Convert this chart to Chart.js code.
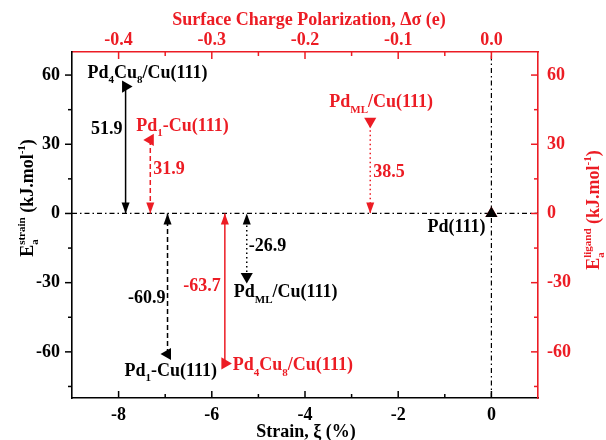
<!DOCTYPE html>
<html>
<head>
<meta charset="utf-8">
<script src="https://cdn.jsdelivr.net/npm/chart.js@4.4.1/dist/chart.umd.min.js"></script>
<style>
  html, body { margin: 0; padding: 0; background: #fff; }
</style>
</head>
<body>
<canvas id="chart" width="606" height="440"></canvas>
<script>
const RED = '#ec1c24';
const FONT = '"Liberation Serif", "Times New Roman", serif';

// structures, same order in both series
const systems = ['Pd4Cu8/Cu(111)', 'Pd1-Cu(111)', 'PdML/Cu(111)', 'Pd(111)'];

// strain part (bottom + left axes, black)
const strain = [-7.85, -6.95, -5.25, 0];
const strainEnergy = [55, -60.9, -27.3, 0];
const strainText = ['51.9', '-60.9', '-26.9'];

// ligand part (top + right axes, red)
const polarization = [-0.286, -0.366, -0.130, 0];
const ligandEnergy = [-65, 31.9, 40, 0];
const ligandText = ['-63.7', '31.9', '38.5'];

// axes
const strainTicks = [-8, -6, -4, -2, 0];
const strainMinor = [-7, -5, -3, -1];
const polTicks = [-0.4, -0.3, -0.2, -0.1, 0.0];
const polMinor = [-0.35, -0.25, -0.15, -0.05];
const energyTicks = [-60, -30, 0, 30, 60];
const energyMinor = [-75, -45, -15, 15, 45];

// marker direction per structure (right, left, down, up)
const markerRot = [90, 270, 180, 0];
const stemDash = [[], [5, 3], [1.5, 3]];

// label offsets from the marker, in px
const nameOffset = {
  strain: [[-38, -9], [-43, 22], [-13, 21], [-64, 19]],
  ligand: [[8, 7], [-14, -9], [-41, -14], null]
};
const valueOffset = {
  strain: [[-3, 47, 'right'], [-2, -51, 'right'], [2, -25, 'left']],
  ligand: [[-4, -72, 'right'], [3, 34, 'left'], [3, 56, 'left']]
};

const font = s => `bold ${Math.round(s)}px ${FONT}`;

function richName(s) {
  const cut = s.search(/[\/\-(]/);
  const parts = [];
  s.slice(0, cut).replace(/([A-Z][a-z]?)(\d+|ML)?/g, (m, el, n) => {
    parts.push({ t: el });
    if (n) parts.push({ sub: n });
  });
  parts.push({ t: s.slice(cut) });
  return parts;
}

function richWidth(ctx, parts, size) {
  let w = 0;
  parts.forEach(p => {
    if (p.t !== undefined) { ctx.font = font(size); w += ctx.measureText(p.t).width; }
    else {
      ctx.font = font(size * 0.6);
      w += Math.max(p.sub ? ctx.measureText(p.sub).width : 0, p.sup ? ctx.measureText(p.sup).width : 0);
    }
  });
  return w;
}

function drawRich(ctx, parts, x, y, size, color, align) {
  const w = richWidth(ctx, parts, size);
  let cx = align === 'center' ? x - w / 2 : align === 'right' ? x - w : x;
  ctx.fillStyle = color;
  ctx.textAlign = 'left';
  ctx.textBaseline = 'alphabetic';
  parts.forEach(p => {
    if (p.t !== undefined) {
      ctx.font = font(size);
      ctx.fillText(p.t, cx, y);
      cx += ctx.measureText(p.t).width;
    } else {
      ctx.font = font(size * 0.6);
      let adv = 0;
      if (p.sub) { ctx.fillText(p.sub, cx, y + size * 0.3); adv = ctx.measureText(p.sub).width; }
      if (p.sup) { ctx.fillText(p.sup, cx, y - size * 0.45); adv = Math.max(adv, ctx.measureText(p.sup).width); }
      cx += adv;
    }
  });
}

function toPoints(xs, ys) {
  return xs.map((x, i) => ({ x: x, y: ys[i] }));
}

const datasets = [];
datasets.push({
  data: toPoints(strain, strainEnergy), xAxisID: 'x', yAxisID: 'y',
  pointStyle: 'triangle', rotation: markerRot, pointRadius: 7,
  backgroundColor: '#000', borderColor: '#000', borderWidth: 0, order: 0
});
datasets.push({
  data: toPoints(polarization, ligandEnergy), xAxisID: 'x2', yAxisID: 'y2',
  pointStyle: 'triangle', rotation: markerRot, pointRadius: 7,
  backgroundColor: RED, borderColor: RED, borderWidth: 0, order: 1
});
// arrow stems: marker down/up to zero
for (let i = 0; i < 3; i++) {
  datasets.push({
    data: [{ x: strain[i], y: strainEnergy[i] }, { x: strain[i], y: 0 }],
    xAxisID: 'x', yAxisID: 'y', showLine: true, pointRadius: 0,
    borderColor: '#000', borderWidth: 1.5, borderDash: stemDash[i], order: 2, arrow: true
  });
  datasets.push({
    data: [{ x: polarization[i], y: ligandEnergy[i] }, { x: polarization[i], y: 0 }],
    xAxisID: 'x2', yAxisID: 'y2', showLine: true, pointRadius: 0,
    borderColor: RED, borderWidth: 1.5, borderDash: stemDash[i], order: 2, arrow: true
  });
}
// zero reference lines
datasets.push({
  data: [{ x: -9, y: 0 }, { x: 1, y: 0 }], xAxisID: 'x', yAxisID: 'y',
  showLine: true, pointRadius: 0, borderColor: '#000', borderWidth: 1.2,
  borderDash: [5, 3, 1.5, 3], order: 3
});
datasets.push({
  data: [{ x: 0, y: -80 }, { x: 0, y: 70 }], xAxisID: 'x', yAxisID: 'y',
  showLine: true, pointRadius: 0, borderColor: '#000', borderWidth: 1.2,
  borderDash: [5, 3, 1.5, 3], order: 3
});

const tickFont = { family: FONT, size: 18, weight: 'bold' };

function axis(pos, min, max, ticks, color, fmt, size, pad) {
  const horiz = pos === 'top' || pos === 'bottom';
  return {
    type: 'linear', position: pos, min: min, max: max,
    grid: { display: false, drawTicks: false },
    border: { display: true, color: color, width: 1.6 },
    ticks: { color: color, font: tickFont, padding: pad, callback: fmt, maxRotation: 0 },
    afterBuildTicks: s => { s.ticks = ticks.map(v => ({ value: v })); },
    afterFit: s => { if (horiz) s.height = size; else s.width = size; }
  };
}

const decorations = {
  id: 'decorations',
  afterDatasetsDraw(chart) {
    const ctx = chart.ctx;
    const { x, x2, y, y2 } = chart.scales;
    const a = chart.chartArea;
    ctx.save();

    // arrowheads at the zero end of each stem
    chart.data.datasets.forEach(ds => {
      if (!ds.arrow) return;
      const sx = chart.scales[ds.xAxisID], sy = chart.scales[ds.yAxisID];
      const px = sx.getPixelForValue(ds.data[1].x);
      const tip = sy.getPixelForValue(ds.data[1].y);
      const from = sy.getPixelForValue(ds.data[0].y);
      const d = from > tip ? 1 : -1;
      ctx.fillStyle = ds.borderColor;
      ctx.beginPath();
      ctx.moveTo(px, tip);
      ctx.lineTo(px - 4, tip + d * 11);
      ctx.lineTo(px + 4, tip + d * 11);
      ctx.closePath();
      ctx.fill();
    });

    // tick marks
    ctx.lineWidth = 1.5;
    const vt = (scale, vals, len, color, x0, dir) => {
      ctx.strokeStyle = color;
      vals.forEach(v => {
        const p = scale.getPixelForValue(v);
        ctx.beginPath(); ctx.moveTo(x0, p); ctx.lineTo(x0 + dir * len, p); ctx.stroke();
      });
    };
    const ht = (scale, vals, len, color, y0, dir) => {
      ctx.strokeStyle = color;
      vals.forEach(v => {
        const p = scale.getPixelForValue(v);
        ctx.beginPath(); ctx.moveTo(p, y0); ctx.lineTo(p, y0 + dir * len); ctx.stroke();
      });
    };
    vt(y, energyTicks, 7, '#000', a.left, -1);
    vt(y, energyMinor, 4, '#000', a.left, -1);
    vt(y2, energyTicks, 7, RED, a.right, -1);
    vt(y2, energyMinor, 4, RED, a.right, -1);
    ht(x, strainTicks, 7, '#000', a.bottom, -1);
    ht(x, strainMinor, 4, '#000', a.bottom, -1);
    ht(x2, polTicks, 7, RED, a.top, 1);
    ht(x2, polMinor, 4, RED, a.top, 1);

    // structure names
    systems.forEach((s, i) => {
      const parts = richName(s);
      const o1 = nameOffset.strain[i];
      if (o1) drawRich(ctx, parts, x.getPixelForValue(strain[i]) + o1[0], y.getPixelForValue(strainEnergy[i]) + o1[1], 18, '#000', 'left');
      const o2 = nameOffset.ligand[i];
      if (o2) drawRich(ctx, parts, x2.getPixelForValue(polarization[i]) + o2[0], y2.getPixelForValue(ligandEnergy[i]) + o2[1], 18, RED, 'left');
    });

    // energy values
    ctx.font = font(18);
    ctx.textBaseline = 'alphabetic';
    strainText.forEach((t, i) => {
      const o = valueOffset.strain[i];
      ctx.fillStyle = '#000'; ctx.textAlign = o[2];
      ctx.fillText(t, x.getPixelForValue(strain[i]) + o[0], y.getPixelForValue(strainEnergy[i]) + o[1]);
    });
    ligandText.forEach((t, i) => {
      const o = valueOffset.ligand[i];
      ctx.fillStyle = RED; ctx.textAlign = o[2];
      ctx.fillText(t, x2.getPixelForValue(polarization[i]) + o[0], y2.getPixelForValue(ligandEnergy[i]) + o[1]);
    });

    // axis titles
    drawRich(ctx, [{ t: 'Surface Charge Polarization, \u0394\u03c3 (e)' }], 309, 25, 18, RED, 'center');
    drawRich(ctx, [{ t: 'Strain, \u03be (%)' }], 306, 437, 18, '#000', 'center');
    ctx.save();
    ctx.translate(33, 198);
    ctx.rotate(-Math.PI / 2);
    drawRich(ctx, [{ t: 'E' }, { sub: 'a', sup: 'strain' }, { t: ' (kJ.mol' }, { sup: '-1' }, { t: ')' }], 0, 0, 18, '#000', 'center');
    ctx.restore();
    ctx.save();
    ctx.translate(599, 210);
    ctx.rotate(-Math.PI / 2);
    drawRich(ctx, [{ t: 'E' }, { sub: 'a', sup: 'ligand' }, { t: ' (kJ.mol' }, { sup: '-1' }, { t: ')' }], 0, 0, 18, RED, 'center');
    ctx.restore();

    ctx.restore();
  }
};

new Chart(document.getElementById('chart'), {
  type: 'scatter',
  data: { datasets: datasets },
  options: {
    responsive: false,
    animation: false,
    devicePixelRatio: 1,
    layout: { padding: 0 },
    plugins: { legend: { display: false }, tooltip: { enabled: false } },
    scales: {
      x: axis('bottom', -9, 1, strainTicks, '#000', v => String(v), 42, 7),
      x2: axis('top', -0.45, 0.05, polTicks, RED, v => Number(v).toFixed(1), 52, 1),
      y: axis('left', -80, 70, energyTicks, '#000', v => String(v), 72, 12),
      y2: axis('right', -80, 70, energyTicks, RED, v => String(v), 68, 9)
    }
  },
  plugins: [decorations]
});
</script>
</body>
</html>
